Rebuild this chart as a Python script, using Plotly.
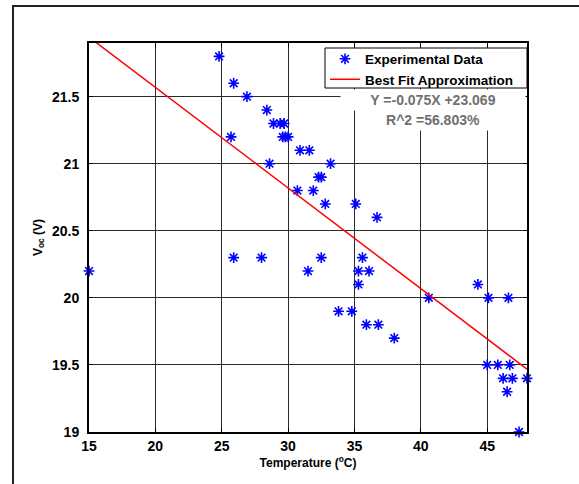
import plotly.graph_objects as go

# ---- data ----
temperature = [15.0, 24.8, 25.9, 26.9, 25.7, 28.4, 28.9, 29.4, 29.7, 29.6, 29.8, 30.0,
               30.9, 31.6, 28.6, 33.2, 30.7, 31.9, 32.3, 32.5, 32.8, 35.1, 36.7,
               25.9, 28.0, 32.5, 35.6, 31.5, 35.3, 36.1, 35.3, 40.6, 44.3, 45.1, 46.6,
               33.8, 34.8, 35.9, 36.8, 38.0, 45.0, 45.8, 46.7, 46.2, 46.9, 48.0, 46.5, 47.4]
voc = [20.2, 21.8, 21.6, 21.5, 21.2, 21.4, 21.3, 21.3, 21.3, 21.2, 21.2, 21.2,
       21.1, 21.1, 21.0, 21.0, 20.8, 20.8, 20.9, 20.9, 20.7, 20.7, 20.6,
       20.3, 20.3, 20.3, 20.3, 20.2, 20.2, 20.2, 20.1, 20.0, 20.1, 20.0, 20.0,
       19.9, 19.9, 19.8, 19.8, 19.7, 19.5, 19.5, 19.5, 19.4, 19.4, 19.4, 19.3, 19.0]

fit_slope = -0.075
fit_intercept = 23.069
r_squared_pct = 56.803

x_ticks = [15, 20, 25, 30, 35, 40, 45]
x_tick_labels = ["15", "20", "25", "30", "35", "40", "45"]
y_ticks = [19, 19.5, 20, 20.5, 21, 21.5]
y_tick_labels = ["19", "19.5", "20", "20.5", "21", "21.5"]
x_range = [15, 48]
y_range = [19, 21.9]

fit_x = [x_range[0], x_range[1]]
fit_y = [fit_slope * v + fit_intercept for v in fit_x]

FONT = "Liberation Sans, Arial, sans-serif"
PW, PH, PL, PT = 438, 389, 89, 43   # plot area geometry in px


def px_x(p):
    return (p - PL) / PW


def px_y(p):
    return (PT + PH - p) / PH


fig = go.Figure()
fig.add_trace(go.Scatter(
    x=temperature, y=voc, mode="markers", name="Experimental Data",
    marker=dict(symbol="asterisk-open", size=9, color="#0000ff",
                line=dict(color="#0000ff", width=1.6)),
    cliponaxis=False,
))
fig.add_trace(go.Scatter(
    x=fit_x, y=fit_y, mode="lines", name="Best Fit Approximation",
    line=dict(color="#ff0000", width=1.5),
))

axis_common = dict(
    showgrid=True, gridcolor="#2a2a2a", gridwidth=1,
    showline=True, linecolor="black", linewidth=2, mirror="ticks",
    ticks="inside", ticklen=4, tickcolor="black", tickwidth=1,
    tickfont=dict(family=FONT, size=14, color="black", weight="bold"),
    zeroline=False,
)

fig.update_xaxes(range=x_range, tickmode="array", tickvals=x_ticks, ticktext=x_tick_labels,
                 title=dict(text="Temperature (<sup>o</sup>C)", standoff=2,
                            font=dict(family=FONT, size=12, color="black", weight="bold")),
                 **axis_common)
fig.update_yaxes(range=y_range, tickmode="array", tickvals=y_ticks, ticktext=y_tick_labels,
                 ticklabelstandoff=5,
                 title=dict(text="V<sub>oc</sub> (V)", standoff=7,
                            font=dict(family=FONT, size=12, color="black", weight="bold")),
                 **axis_common)

# legend box
fig.add_shape(type="rect", xref="paper", yref="paper",
              x0=px_x(325), x1=px_x(527), y0=px_y(88), y1=px_y(48),
              line=dict(color="black", width=1), fillcolor="white", layer="above")

fig.add_annotation(xref="paper", yref="paper", x=px_x(433), y=px_y(100),
                   xanchor="center", yanchor="middle",
                   text=f"Y ={fit_slope:.3f}X +{fit_intercept:.3f}", showarrow=False,
                   font=dict(family=FONT, size=14, color="#707070", weight="bold"),
                   bgcolor="white", width=182, height=18)
fig.add_annotation(xref="paper", yref="paper", x=px_x(433), y=px_y(119.5),
                   xanchor="center", yanchor="middle",
                   text=f"R^2 ={r_squared_pct:.3f}%", showarrow=False,
                   font=dict(family=FONT, size=14, color="#707070", weight="bold"),
                   bgcolor="white", width=112, height=18)

# outer figure frame (left and top edges visible)
fig.add_shape(type="line", xref="paper", yref="paper", x0=px_x(13), x1=px_x(13),
              y0=-1, y1=px_y(5), line=dict(color="#222", width=2))
fig.add_shape(type="line", xref="paper", yref="paper", x0=px_x(12), x1=2,
              y0=px_y(6), y1=px_y(6), line=dict(color="#222", width=2))

fig.update_layout(
    width=579, height=484,
    margin=dict(l=PL, r=579 - PL - PW, t=PT, b=484 - PT - PH),
    paper_bgcolor="white", plot_bgcolor="white",
    showlegend=True,
    legend=dict(x=px_x(325), xanchor="left", y=px_y(43.5), yanchor="top",
                bgcolor="rgba(0,0,0,0)", borderwidth=0,
                font=dict(family=FONT, size=13.5, color="black", weight="bold"),
                tracegroupgap=0, itemwidth=30),
)

fig.write_html("out.html", config={"displayModeBar": False},
               post_script="document.body.style.margin='0px';document.body.style.padding='0px';")
